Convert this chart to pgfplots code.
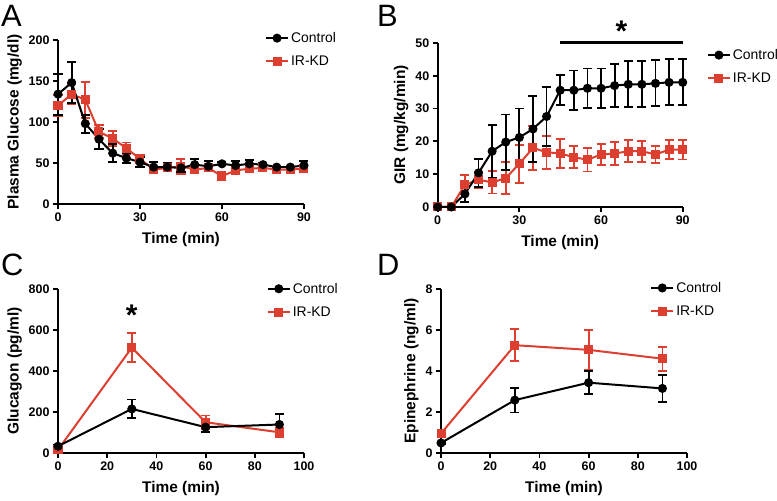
\documentclass[border=0pt]{standalone}
\usepackage{pgfplots}
\usepackage{pgfplotstable}
\pgfplotsset{compat=1.18}
\usepackage{fontspec}
\setmainfont{Liberation Sans}
\definecolor{irred}{RGB}{220,62,48}

\pgfplotstableread{
t m e
0 134 25
5 148 25
10 98 11
15 79 12
20 62 11
25 56 6
30 51 6
35 45 6
40 45 5
45 44 5
50 48 7
55 46 6
60 49 2
65 47 5
70 49 5
75 48 2
80 45 2
85 45 2
90 47 5
}\Actrl
\pgfplotstableread{
t m e
0 120 13
5 134 12
10 127 22
15 88 8
20 80 9
25 68 7
30 55 5
35 42 4
40 44 3
45 46 9
50 42 4
55 44 4
60 34 5
65 41 4
70 43 3
75 44 3
80 42 4
85 42 4
90 43 4
}\Air
\pgfplotstableread{
t m e
0 0 0
5 0 0
10 4 2.4
15 10.4 4.3
20 17 8
25 19.8 8.4
30 21.2 8.8
35 23.8 10
40 27.6 9
45 35.6 4.6
50 35.6 6
55 36.2 6
60 36.2 6
65 37 6.6
70 37.4 7
75 37.4 7
80 37.7 7
85 38 7
90 38 7
}\Bctrl
\pgfplotstableread{
t m e
0 0 0
5 0 0
10 6.8 3
15 8.3 2.5
20 7.5 3.4
25 8.8 4.8
30 13.2 5.8
35 18 6.6
40 16.7 5
45 16.3 4.5
50 15.2 3.3
55 14.4 3.6
60 16 3.3
65 16.3 3.4
70 17 3.4
75 17 3.2
80 16 2.5
85 17.5 2.9
90 17.5 3
}\Bir
\pgfplotstableread{
t m e
0 33 5
30 215 46
60 126 24
90 139 52
}\Cctrl
\pgfplotstableread{
t m e
0 16 5
30 514 70
60 150 33
90 101 21
}\Cir
\pgfplotstableread{
t m e
0 0.49 0.05
30 2.58 0.6
60 3.43 0.57
90 3.15 0.65
}\Dctrl
\pgfplotstableread{
t m e
0 0.95 0.08
30 5.26 0.78
60 5.03 0.96
90 4.6 0.59
}\Dir

\pgfplotsset{
  panel/.style={
    scale only axis, width=246bp, height=164bp,
    axis x line*=bottom, axis y line*=left,
    axis line style={line width=2bp, black},
    every tick/.style={line width=1.8bp, black},
    tick align=outside, major tick length=5bp,
    ticklabel style={font=\bfseries\fontsize{12.5}{12.5}\selectfont},
    /pgf/number format/assume math mode=true,
    label style={font=\bfseries\fontsize{15.5}{15.5}\selectfont},
    xlabel={Time (min)},
    xlabel style={yshift=-4bp},
    clip=false,
    legend style={draw=none, fill=none, font=\fontsize{14}{14}\selectfont,
      row sep=8bp, anchor=north west, inner sep=0pt, cells={anchor=west}},
    legend image code/.code={\draw[mark repeat=2,mark phase=2,##1] plot coordinates {(0bp,0bp) (11bp,0bp) (22bp,0bp)};},
    reverse legend,
  },
  ctrl/.style={black, line width=2bp, mark=*, mark size=3.5bp, mark options={solid},
    error bars/.cd, y dir=both, y explicit,
    error bar style={line width=1.8bp, black},
    error mark options={rotate=90, mark size=4.5bp, line width=1.8bp, black}},
  ir/.style={irred, line width=2bp, mark=square*, mark size=3.5bp, mark options={solid},
    error bars/.cd, y dir=both, y explicit,
    error bar style={line width=1.8bp, irred},
    error mark options={rotate=90, mark size=4.5bp, line width=1.8bp, irred}},
}

\begin{document}
\begin{tikzpicture}
\useasboundingbox (0,0) rectangle (777bp,501bp);

% Panel letters
\node[anchor=base west, inner sep=0pt, font=\fontsize{31}{31}\selectfont] at (1bp,474bp) {A};
\node[anchor=base west, inner sep=0pt, font=\fontsize{31}{31}\selectfont] at (377bp,474bp) {B};
\node[anchor=base west, inner sep=0pt, font=\fontsize{31}{31}\selectfont] at (1bp,225bp) {C};
\node[anchor=base west, inner sep=0pt, font=\fontsize{31}{31}\selectfont] at (377bp,225bp) {D};

% Panel A
\begin{axis}[panel, at={(58bp,297bp)}, anchor=south west,
  xmin=0, xmax=90, ymin=0, ymax=200,
  xtick={0,30,60,90}, ytick={0,50,100,150,200},
  ylabel={Plasma Glucose (mg/dl)},
  legend style={at={(0.841,1.06)}}]
\addplot[ir] table[x=t,y=m,y error=e] {\Air};
\addlegendentry{IR-KD}
\addplot[ctrl] table[x=t,y=m,y error=e] {\Actrl};
\addlegendentry{Control}
\end{axis}

% Panel B
\begin{axis}[panel, at={(437.7bp,294bp)}, anchor=south west, width=245bp,
  xmin=0, xmax=90, ymin=0, ymax=50,
  xtick={0,30,60,90}, ytick={0,10,20,30,40,50},
  ylabel={GIR (mg/kg/min)},
  legend style={at={(1.098,0.975)}}]
\addplot[ir] table[x=t,y=m,y error=e] {\Bir};
\addlegendentry{IR-KD}
\addplot[ctrl] table[x=t,y=m,y error=e] {\Bctrl};
\addlegendentry{Control}
\draw[line width=3bp, black] (axis cs:45,50) -- (axis cs:90,50);
\node[anchor=base, inner sep=0pt, font=\bfseries\fontsize{30}{30}\selectfont] at (axis cs:67.5,50.4) {*};
\end{axis}

% Panel C
\begin{axis}[panel, at={(58bp,48bp)}, anchor=south west,
  xmin=0, xmax=100, ymin=0, ymax=800,
  xtick={0,20,40,60,80,100}, ytick={0,200,400,600,800},
  ylabel={Glucagon (pg/ml)},
  legend style={at={(0.848,1.05)}}]
\addplot[ir] table[x=t,y=m,y error=e] {\Cir};
\addlegendentry{IR-KD}
\addplot[ctrl] table[x=t,y=m,y error=e] {\Cctrl};
\addlegendentry{Control}
\node[anchor=base, inner sep=0pt, font=\bfseries\fontsize{30}{30}\selectfont] at (axis cs:30,620) {*};
\end{axis}

% Panel D
\begin{axis}[panel, at={(441bp,48bp)}, anchor=south west,
  xmin=0, xmax=100, ymin=0, ymax=8,
  xtick={0,20,40,60,80,100}, ytick={0,2,4,6,8},
  ylabel={Epinephrine (ng/ml)},
  legend style={at={(0.85,1.055)}}]
\addplot[ir] table[x=t,y=m,y error=e] {\Dir};
\addlegendentry{IR-KD}
\addplot[ctrl] table[x=t,y=m,y error=e] {\Dctrl};
\addlegendentry{Control}
\end{axis}
\end{tikzpicture}
\end{document}
